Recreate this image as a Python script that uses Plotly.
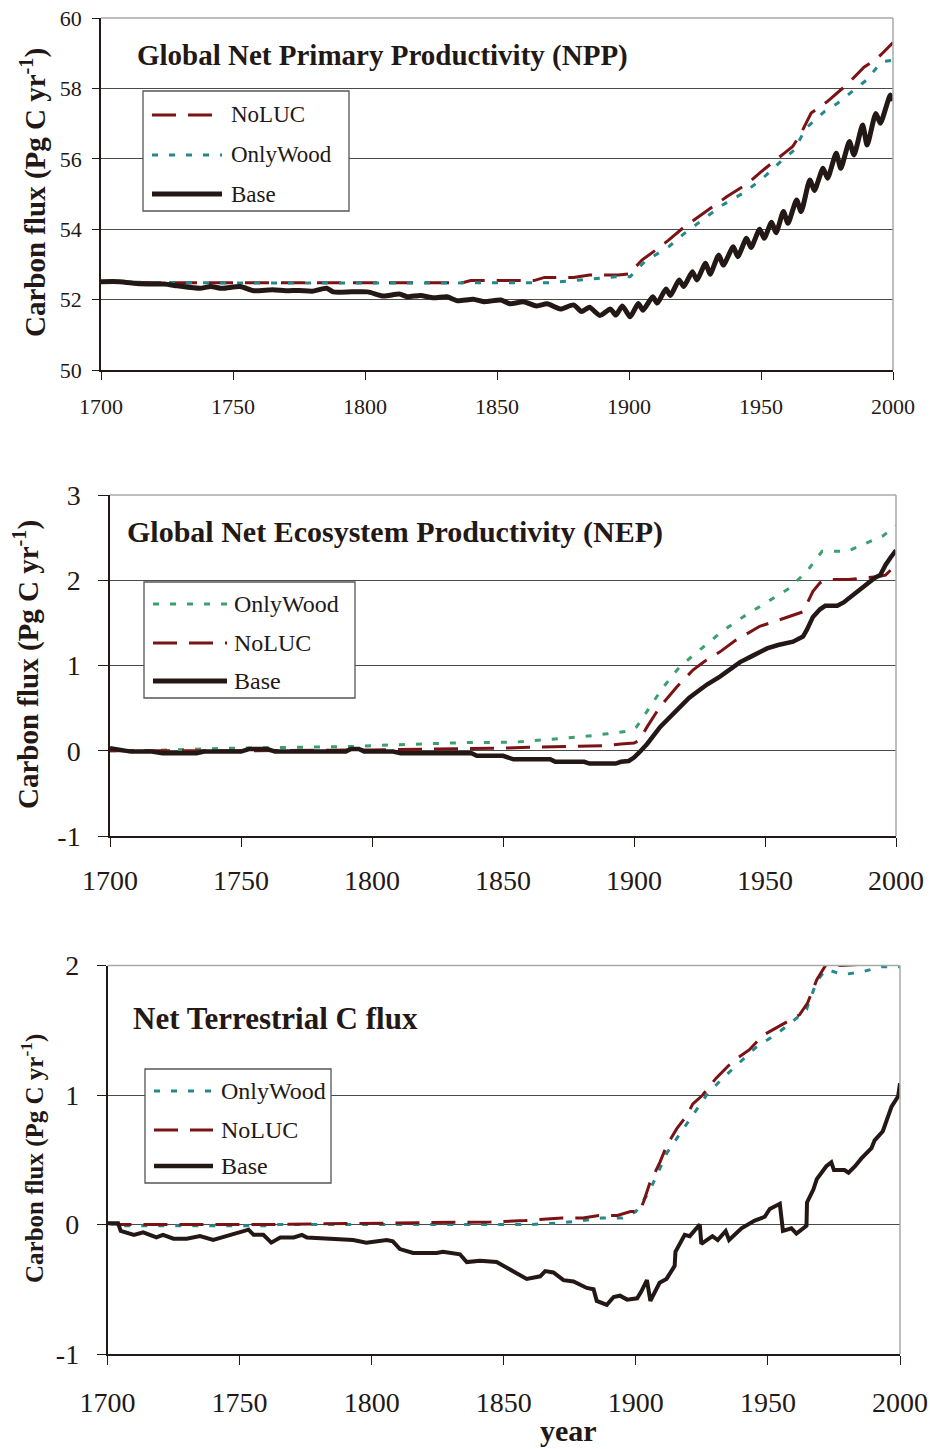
import plotly.graph_objects as go

# ---------------- data ----------------
# Panel 1: Global Net Primary Productivity (Pg C / yr)
npp_base_year = [1700, 1707, 1715, 1724, 1729, 1737.5, 1741.5, 1746, 1752.7, 1757.8, 1765, 1770, 1775,
                 1780, 1785.5, 1788, 1795, 1801, 1807, 1813, 1816, 1821, 1826, 1831, 1835, 1841, 1845,
                 1851.5, 1855, 1860, 1865, 1869, 1874, 1879, 1882, 1885, 1889, 1893, 1895, 1897.5,
                 1900.4, 1903.5, 1905.3, 1909, 1910.7, 1914, 1915.7, 1919, 1920.7, 1924, 1925.7, 1929,
                 1930.7, 1934, 1935.7, 1939.5, 1941.2, 1944.5, 1946.2, 1949.5, 1951.2, 1954, 1955.7,
                 1958.5, 1960.2, 1963.5, 1965.2, 1968.5, 1970.2, 1973.5, 1975.2, 1978.5, 1980.2, 1983.5,
                 1985.2, 1988.5, 1990.2, 1993.5, 1995.2, 1999, 2000]
npp_base = [52.51, 52.51, 52.45, 52.44, 52.39, 52.32, 52.37, 52.32, 52.37, 52.25, 52.28, 52.25, 52.26,
            52.24, 52.32, 52.22, 52.22, 52.22, 52.10, 52.16, 52.08, 52.12, 52.05, 52.08, 51.97, 52.01, 51.94,
            51.99, 51.88, 51.94, 51.82, 51.88, 51.73, 51.85, 51.66, 51.78, 51.55, 51.73, 51.56, 51.82,
            51.51, 51.89, 51.70, 52.08, 51.90, 52.30, 52.12, 52.56, 52.37, 52.79, 52.56, 53.03,
            52.72, 53.27, 52.98, 53.50, 53.22, 53.74, 53.48, 54.00, 53.74, 54.20, 53.90,
            54.50, 54.17, 54.83, 54.50, 55.40, 55.10, 55.73, 55.45, 56.16, 55.73, 56.49,
            56.11, 56.96, 56.39, 57.29, 57.01, 57.81, 57.65]

npp_noluc_year = [1700, 1720, 1760, 1800, 1837, 1840, 1847, 1855, 1864, 1868, 1879, 1885, 1893, 1896, 1900,
                  1905, 1910, 1915, 1921, 1930, 1937, 1945, 1950, 1959, 1962, 1965, 1969, 1975, 1983,
                  1989, 1994, 1996, 2000]
npp_noluc = [52.50, 52.48, 52.48, 52.48, 52.48, 52.54, 52.54, 52.54, 52.54, 52.63, 52.63, 52.70, 52.70, 52.70,
             52.73, 53.13, 53.40, 53.69, 54.07, 54.55, 54.92, 55.30, 55.63, 56.17, 56.35, 56.70, 57.30,
             57.62, 58.14, 58.60, 58.85, 59.00, 59.30]

npp_wood_year = [1700, 1750, 1800, 1850, 1870, 1879, 1886, 1895, 1900.4, 1906, 1915, 1921, 1928.6, 1935.5,
                 1943.1, 1950, 1957, 1962.6, 1967, 1974, 1979, 1985, 1990, 1995.7, 2000]
npp_wood = [52.50, 52.47, 52.47, 52.47, 52.48, 52.54, 52.59, 52.65, 52.65, 53.08, 53.50, 53.88, 54.31, 54.69,
            55.02, 55.40, 55.89, 56.25, 56.87, 57.34, 57.58, 57.95, 58.24, 58.76, 58.80]

# Panel 2: Global Net Ecosystem Productivity (Pg C / yr)
nep_base_year = [1700, 1704, 1708, 1716, 1720, 1733, 1736, 1750, 1753, 1760, 1763, 1790, 1792, 1795, 1797,
                 1808, 1811, 1838, 1840, 1850, 1854, 1868, 1870, 1881, 1883, 1893, 1895, 1898, 1900, 1902,
                 1905, 1910, 1914, 1917.6, 1921, 1924, 1928, 1932.8, 1937, 1940.5, 1945, 1950.8, 1955,
                 1960.7, 1964.5, 1966, 1968.3, 1971, 1973, 1977.6, 1980, 1983.6, 1989, 1992, 1994, 1996,
                 1998, 2000]
nep_base = [0.03, 0.01, -0.01, -0.01, -0.03, -0.03, -0.01, -0.01, 0.02, 0.02, -0.01, -0.01, 0.02, 0.02, -0.01,
            -0.01, -0.03, -0.03, -0.06, -0.06, -0.10, -0.10, -0.13, -0.13, -0.15, -0.15, -0.13, -0.12, -0.08, -0.02,
            0.08, 0.28, 0.40, 0.52, 0.62, 0.69, 0.78, 0.87, 0.96, 1.04, 1.11, 1.20, 1.24,
            1.28, 1.34, 1.42, 1.57, 1.66, 1.70, 1.70, 1.74, 1.83, 1.97, 2.03, 2.06, 2.18,
            2.27, 2.35]

nep_noluc_year = [1700, 1750, 1800, 1830, 1845, 1850, 1860, 1875, 1880, 1890, 1895, 1900, 1902, 1905, 1910,
                  1916.4, 1922.6, 1927, 1932.8, 1938.5, 1943, 1948, 1955, 1960, 1964.5, 1968.3, 1971,
                  1973.6, 1982, 1992.7, 1996, 1998, 2000]
nep_noluc = [0.00, 0.00, 0.01, 0.02, 0.02, 0.03, 0.04, 0.05, 0.06, 0.06, 0.08, 0.09, 0.12, 0.28, 0.52,
             0.75, 0.95, 1.05, 1.16, 1.29, 1.37, 1.46, 1.53, 1.58, 1.63, 1.87, 1.97,
             2.01, 2.01, 2.04, 2.06, 2.12, 2.18]

nep_wood_year = [1700, 1711, 1747, 1792, 1809, 1835, 1854, 1872, 1880.5, 1890, 1898, 1901, 1905, 1911,
                 1917.6, 1925.9, 1933.6, 1941.6, 1950.8, 1959.5, 1966.4, 1971.8, 1981.4, 1989.3, 1995, 2000]
nep_wood = [0.00, 0.00, 0.03, 0.05, 0.07, 0.095, 0.10, 0.14, 0.165, 0.20, 0.23, 0.28, 0.46, 0.74,
            0.99, 1.20, 1.40, 1.57, 1.75, 1.91, 2.12, 2.34, 2.34, 2.44, 2.52, 2.64]

# Panel 3: Net terrestrial C flux (Pg C / yr)
ntf_base_year = [1700, 1704, 1705, 1710, 1713.5, 1718.5, 1721, 1725, 1730, 1735, 1740, 1745, 1750, 1753.4,
                 1755.3, 1759, 1762, 1765.4, 1770.5, 1773.6, 1775.5, 1785, 1793, 1798, 1805.7, 1808,
                 1810.7, 1815.7, 1824.6, 1827, 1833.4, 1836, 1841, 1847.3, 1852.4, 1858.7, 1863.8,
                 1865.7, 1868.8, 1872.6, 1876.4, 1881.4, 1884, 1885.2, 1889, 1891.6, 1894, 1896.7,
                 1900.5, 1902, 1904.2, 1905.5, 1909, 1911.6, 1914.7, 1915, 1918.5, 1920.4, 1924.2,
                 1924.8, 1929, 1931, 1934, 1935.3, 1940, 1945, 1948.8, 1950.7, 1954.5, 1955.7, 1958.9,
                 1960.8, 1964.6, 1964.8, 1967.2, 1968.5, 1972.1, 1974, 1975, 1979, 1980.5, 1983, 1985.4,
                 1989.2, 1990.4, 1993.5, 1996.8, 1999.3, 2000]
ntf_base = [0.01, 0.01, -0.05, -0.08, -0.06, -0.10, -0.08, -0.11, -0.11, -0.09, -0.12, -0.09, -0.06, -0.04,
            -0.08, -0.08, -0.14, -0.10, -0.10, -0.08, -0.10, -0.11, -0.12, -0.14, -0.12, -0.13,
            -0.19, -0.22, -0.22, -0.21, -0.23, -0.29, -0.28, -0.29, -0.35, -0.42, -0.40,
            -0.36, -0.37, -0.43, -0.44, -0.49, -0.50, -0.59, -0.62, -0.56, -0.55, -0.58,
            -0.57, -0.52, -0.43, -0.59, -0.45, -0.42, -0.32, -0.21, -0.08, -0.09, 0.00,
            -0.15, -0.09, -0.12, -0.05, -0.12, -0.03, 0.03, 0.06, 0.12, 0.16, -0.05, -0.03,
            -0.07, -0.01, 0.17, 0.27, 0.35, 0.45, 0.48, 0.42, 0.42, 0.40, 0.45, 0.51,
            0.59, 0.65, 0.72, 0.91, 0.99, 1.09]

ntf_noluc_year = [1700, 1705, 1760, 1800, 1845, 1858, 1872, 1880, 1886, 1893, 1898, 1901.5, 1903, 1905.3,
                  1909.1, 1911.7, 1915.5, 1919.6, 1921.5, 1925.3, 1930.4, 1936.7, 1943, 1948, 1955, 1962,
                  1965, 1968.5, 1972.1, 1978, 1986, 1990, 1995, 2000]
ntf_noluc = [0.01, 0.00, 0.00, 0.01, 0.02, 0.03, 0.05, 0.05, 0.07, 0.07, 0.10, 0.10, 0.18, 0.32,
             0.48, 0.61, 0.74, 0.85, 0.93, 1.00, 1.13, 1.26, 1.35, 1.46, 1.54, 1.62,
             1.71, 1.89, 2.01, 2.00, 2.01, 2.05, 2.08, 2.12]

ntf_wood_year = [1700, 1705, 1760, 1765, 1860, 1870, 1880, 1887, 1895, 1900, 1905, 1908.5, 1911.7, 1917,
                 1921.5, 1926.8, 1932.4, 1940, 1945.6, 1953.2, 1959.5, 1964.6, 1968.5, 1972, 1978.4,
                 1985.4, 1993, 2000]
ntf_wood = [0.01, -0.01, -0.01, 0.00, 0.00, 0.01, 0.03, 0.05, 0.05, 0.10, 0.25, 0.40, 0.55, 0.71,
            0.84, 1.00, 1.12, 1.26, 1.37, 1.47, 1.57, 1.66, 1.88, 1.97, 1.93,
            1.95, 1.99, 1.99]

x_ticks = [1700, 1750, 1800, 1850, 1900, 1950, 2000]
npp_ticks = [50, 52, 54, 56, 58, 60]
nep_ticks = [-1, 0, 1, 2, 3]
ntf_ticks = [-1, 0, 1, 2]

# ---------------- styling ----------------
W, H = 930, 1449
INK = "#231815"
RED = "#7b1315"
TEAL = "#23898c"
GREEN = "#3aa06c"
GRID = "#4a4a4a"
FRAME = "#a8a8a8"
SERIF = "Liberation Serif"

RED_DASH = "24px,12px"
DOT_DASH = "6px,11px"


def fx(p):
    return p / W


def fy(p):
    return 1 - p / H


# plot-area boxes in pixels: left, right, top, bottom
panels = [
    dict(l=101, r=893, t=18, b=370),
    dict(l=110, r=896, t=495, b=836),
    dict(l=107.5, r=900, t=965.5, b=1354),
]

fig = go.Figure()

# (x, y, colour, width, dash, line shape)
series = [
    [(npp_noluc_year, npp_noluc, RED, 3, RED_DASH, "linear"),
     (npp_wood_year, npp_wood, TEAL, 3, DOT_DASH, "linear"),
     (npp_base_year, npp_base, INK, 5, "solid", "spline")],
    [(nep_wood_year, nep_wood, GREEN, 3, DOT_DASH, "linear"),
     (nep_noluc_year, nep_noluc, RED, 3, RED_DASH, "linear"),
     (nep_base_year, nep_base, INK, 4.5, "solid", "linear")],
    [(ntf_wood_year, ntf_wood, TEAL, 3, DOT_DASH, "linear"),
     (ntf_noluc_year, ntf_noluc, RED, 3, RED_DASH, "linear"),
     (ntf_base_year, ntf_base, INK, 4, "solid", "linear")],
]

for i, group in enumerate(series):
    ax = "" if i == 0 else str(i + 1)
    for xs, ys, col, w, dash, shape in group:
        line = dict(color=col, width=w, dash=dash, shape=shape)
        if shape == "spline":
            line["smoothing"] = 0.6
        fig.add_trace(go.Scatter(
            x=xs, y=ys, mode="lines", showlegend=False, hoverinfo="skip",
            line=line, xaxis="x" + ax, yaxis="y" + ax,
        ))

layout = dict(
    width=W, height=H, margin=dict(l=0, r=0, t=0, b=0, autoexpand=False),
    paper_bgcolor="white", plot_bgcolor="white",
    font=dict(family=SERIF, color=INK),
    showlegend=False,
)

# y range, y ticks, y tick text, y font, x font, x tick length, y tick length, x standoff, y standoff
y_specs = [
    ([50, 60], npp_ticks, [str(v) for v in npp_ticks], 22, 22, 8, 7, 8, 6),
    ([-1, 3], nep_ticks, [str(v) for v in nep_ticks], 28, 28, 9, 10, 10, 12),
    ([-1, 2], ntf_ticks, [str(v) for v in ntf_ticks], 28, 28, 9, 9, 14, 12),
]

for i, (p, spec) in enumerate(zip(panels, y_specs)):
    ax = "" if i == 0 else str(i + 1)
    yr, yt, ytt, yfs, xfs, xtl, ytl, xso, yso = spec
    layout["xaxis" + ax] = dict(
        domain=[fx(p["l"]), fx(p["r"])], anchor="y" + ax, range=[1700, 2000],
        tickvals=x_ticks, ticktext=[str(v) for v in x_ticks],
        ticks="outside", ticklen=xtl, tickwidth=1.3, tickcolor=INK,
        showline=True, linecolor=INK, linewidth=1.5,
        showgrid=False, zeroline=False, fixedrange=True, automargin=False,
        tickfont=dict(family=SERIF, size=xfs, color=INK),
        ticklabelstandoff=xso,
    )
    layout["yaxis" + ax] = dict(
        domain=[fy(p["b"]), fy(p["t"])], anchor="x" + ax, range=yr,
        tickvals=yt, ticktext=ytt,
        ticks="outside", ticklen=ytl, tickwidth=1.3, tickcolor=INK,
        showline=True, linecolor=INK, linewidth=1.5,
        showgrid=True, gridcolor=GRID, gridwidth=1, zeroline=False, fixedrange=True, automargin=False,
        tickfont=dict(family=SERIF, size=yfs, color=INK),
        ticklabelstandoff=yso,
    )

shapes = []
annotations = []

# light frame on top/right of each plot area
for i, p in enumerate(panels):
    shapes.append(dict(type="line", xref="paper", yref="paper",
                       x0=fx(p["l"]), x1=fx(p["r"]), y0=fy(p["t"]), y1=fy(p["t"]),
                       line=dict(color=FRAME, width=1.5), layer="above"))
    shapes.append(dict(type="line", xref="paper", yref="paper",
                       x0=fx(p["r"]), x1=fx(p["r"]), y0=fy(p["t"]), y1=fy(p["b"]),
                       line=dict(color=FRAME, width=1.5), layer="above"))

# panel titles
titles = [
    ("Global Net Primary Productivity (NPP)", 135, 55, 29),
    ("Global Net Ecosystem Productivity (NEP)", 125, 532, 30),
    ("Net Terrestrial C flux", 131, 1018, 31),
]
for text, x, y, size in titles:
    annotations.append(dict(text="<b>" + text + "</b>", xref="paper", yref="paper",
                            x=fx(x), y=fy(y), xanchor="left", yanchor="middle", showarrow=False,
                            font=dict(family=SERIF, size=size, color=INK)))

# vertical axis titles
ytitles = [(33, 193, 29), (26, 665, 29), (32, 1159, 25)]
for x, y, size in ytitles:
    annotations.append(dict(text="<b>Carbon flux (Pg C yr<sup>-1</sup>)</b>", xref="paper", yref="paper",
                            x=fx(x), y=fy(y), xanchor="center", yanchor="middle", textangle=-90,
                            showarrow=False, font=dict(family=SERIF, size=size, color=INK)))

annotations.append(dict(text="<b>year</b>", xref="paper", yref="paper", x=fx(568), y=fy(1430),
                        xanchor="center", yanchor="middle", showarrow=False,
                        font=dict(family=SERIF, size=30, color=INK)))

# hand-placed legend boxes
legends = [
    dict(box=(143, 349, 91, 211), x0=152, x1=222, tx=229, size=23,
         items=[("NoLUC", RED, 3, RED_DASH, 115), ("OnlyWood", TEAL, 3, DOT_DASH, 155),
                ("Base", INK, 5, "solid", 194)]),
    dict(box=(144, 355, 582, 698), x0=153, x1=227, tx=232, size=24,
         items=[("OnlyWood", GREEN, 3, DOT_DASH, 604), ("NoLUC", RED, 3, RED_DASH, 643),
                ("Base", INK, 5, "solid", 681)]),
    dict(box=(145, 331, 1069, 1183), x0=154, x1=213, tx=219, size=24,
         items=[("OnlyWood", TEAL, 3, DOT_DASH, 1091), ("NoLUC", RED, 3, RED_DASH, 1130),
                ("Base", INK, 4.5, "solid", 1166)]),
]
for lg in legends:
    l, r, t, b = lg["box"]
    shapes.append(dict(type="rect", xref="paper", yref="paper", x0=fx(l), x1=fx(r), y0=fy(b), y1=fy(t),
                       fillcolor="white", line=dict(color="#555555", width=1.3), layer="above"))
    for name, col, w, dash, y in lg["items"]:
        shapes.append(dict(type="line", xref="paper", yref="paper", x0=fx(lg["x0"]), x1=fx(lg["x1"]),
                           y0=fy(y), y1=fy(y), line=dict(color=col, width=w, dash=dash), layer="above"))
        annotations.append(dict(text=name, xref="paper", yref="paper", x=fx(lg["tx"]), y=fy(y),
                                xanchor="left", yanchor="middle", showarrow=False,
                                font=dict(family=SERIF, size=lg["size"], color=INK)))

layout["shapes"] = shapes
layout["annotations"] = annotations
fig.update_layout(**layout)

fig.write_html("out.html")
